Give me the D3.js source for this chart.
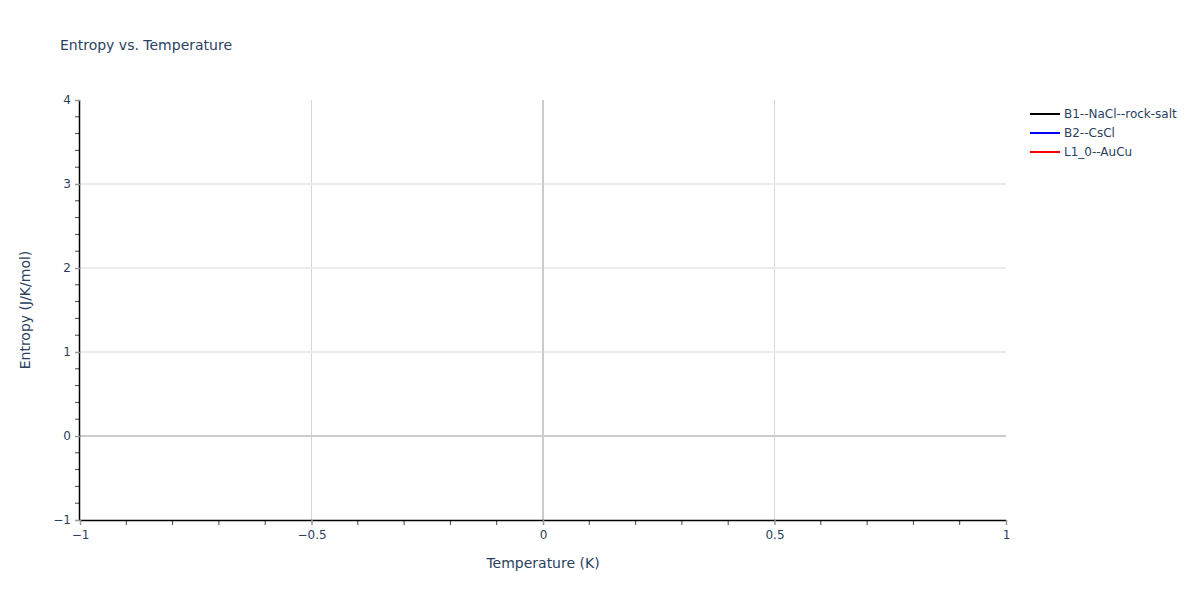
<!DOCTYPE html>
<html><head><meta charset="utf-8">
<script src="https://cdn.jsdelivr.net/npm/d3@7"></script>
<style>body{margin:0;background:#fff;} text{font-family:"DejaVu Sans",Verdana,sans-serif;}</style>
</head><body><svg id="c" width="1200" height="600"></svg>
<script>
const seriesNames = ["B1--NaCl--rock-salt", "B2--CsCl", "L1_0--AuCu"];
const seriesColors = ["black", "blue", "red"];
const temperatures = [[], [], []];
const entropies = [[], [], []];
const xTicks = [-1, -0.5, 0, 0.5, 1];
const yTicks = [-1, 0, 1, 2, 3, 4];
const xDomain = [-1, 1];
const yDomain = [-1, 4];

const FONT = '"DejaVu Sans",Verdana,sans-serif';
const svg = d3.select("#c");
const m = {l: 80, r: 194, t: 100, b: 80};
const W = 1200, H = 600;
const x = d3.scaleLinear().domain(xDomain).range([m.l, W - m.r]);
const y = d3.scaleLinear().domain(yDomain).range([H - m.b, m.t]);
const fmt = v => (v < 0 ? "\u2212" : "") + String(Math.abs(v));
const txt = "#2a3f5f";

// grid
const g = svg.append("g");
g.selectAll(".gx").data(xTicks.filter(v => v !== 0 && v !== xDomain[0] && v !== xDomain[1])).enter().append("line")
  .attr("x1", d => x(d)).attr("x2", d => x(d)).attr("y1", y(yDomain[0])).attr("y2", y(yDomain[1]))
  .attr("stroke", "#d6d6d6").attr("stroke-width", 1);
g.selectAll(".gy").data(yTicks.filter(v => v !== 0 && v !== yDomain[0] && v !== yDomain[1])).enter().append("line")
  .attr("y1", d => y(d)).attr("y2", d => y(d)).attr("x1", x(xDomain[0])).attr("x2", x(xDomain[1]))
  .attr("stroke", "#ebebeb").attr("stroke-width", 2);
// zero lines
g.append("line").attr("x1", x(0)).attr("x2", x(0)).attr("y1", y(yDomain[0])).attr("y2", y(yDomain[1]))
  .attr("stroke", "#cccccc").attr("stroke-width", 2);
g.append("line").attr("y1", y(0)).attr("y2", y(0)).attr("x1", x(xDomain[0])).attr("x2", x(xDomain[1]))
  .attr("stroke", "#cccccc").attr("stroke-width", 2);

// minor ticks
const xMinor = d3.range(-9, 10).map(i => i / 10).filter(v => Math.abs(v * 2 - Math.round(v * 2)) > 1e-9);
const yMinor = d3.range(-4, 20).map(i => i / 5).filter(v => Math.abs(v - Math.round(v)) > 1e-9);
svg.selectAll(".mx").data(xMinor).enter().append("line")
  .attr("x1", d => x(d)).attr("x2", d => x(d)).attr("y1", y(yDomain[0])).attr("y2", y(yDomain[0]) + 5)
  .attr("stroke", "#444").attr("stroke-width", 1);
svg.selectAll(".my").data(yMinor).enter().append("line")
  .attr("y1", d => y(d)).attr("y2", d => y(d)).attr("x1", x(xDomain[0])).attr("x2", x(xDomain[0]) - 5)
  .attr("stroke", "#444").attr("stroke-width", 1);

// axes
const xAxis = d3.axisBottom(x).tickValues(xTicks).tickFormat(fmt).tickSize(5).tickPadding(5);
const yAxis = d3.axisLeft(y).tickValues(yTicks).tickFormat(fmt).tickSize(5).tickPadding(4);
const gx = svg.append("g").attr("transform", `translate(0,${y(yDomain[0])})`).call(xAxis);
const gy = svg.append("g").attr("transform", `translate(${x(xDomain[0])},0)`).call(yAxis);
[gx, gy].forEach(a => {
  a.select(".domain").attr("stroke", "#000").attr("stroke-width", 1.5);
  a.selectAll(".tick line").attr("stroke", "#999").attr("stroke-width", 1.5);
  a.selectAll(".tick text").attr("fill", txt).style("font-size", "12px").style("font-family", FONT);
});
gy.select(".domain").attr("d", `M-0.5,${y(yDomain[1])}V${y(yDomain[0])}`);
gx.select(".domain").attr("d", `M${x(xDomain[0])},0.5H${x(xDomain[1])}`);

// series
const line = d3.line().x(d => x(d[0])).y(d => y(d[1]));
seriesNames.forEach((n, i) => {
  const pts = temperatures[i].map((t, j) => [t, entropies[i][j]]);
  svg.append("path").datum(pts).attr("d", line).attr("fill", "none").attr("stroke", seriesColors[i]).attr("stroke-width", 2);
});

// titles
svg.append("text").attr("x", 60).attr("y", 50).attr("fill", txt).style("font-size", "14px").text("Entropy vs. Temperature");
svg.append("text").attr("x", x(0)).attr("y", 568).attr("text-anchor", "middle").attr("fill", txt).style("font-size", "14px").text("Temperature (K)");
svg.append("text").attr("transform", `translate(30,${y(1.5)}) rotate(-90)`).attr("text-anchor", "middle").attr("fill", txt).style("font-size", "14px").text("Entropy (J/K/mol)");

// legend
const lg = svg.append("g");
seriesNames.forEach((n, i) => {
  const yy = 114 + i * 19;
  lg.append("line").attr("x1", 1030).attr("x2", 1060).attr("y1", yy).attr("y2", yy).attr("stroke", seriesColors[i]).attr("stroke-width", 2);
  lg.append("text").attr("x", 1064).attr("y", yy + 4).attr("fill", txt).style("font-size", "12px").text(n);
});
</script></body></html>
